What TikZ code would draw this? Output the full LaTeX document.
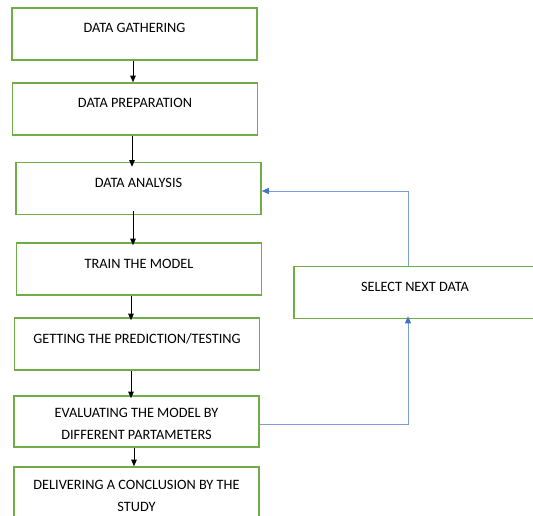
\documentclass[tikz,border=0pt]{standalone}
\usepackage{fontspec}
\setmainfont{Carlito}
\usetikzlibrary{arrows.meta}
\definecolor{boxgreen}{HTML}{70AD47}
\definecolor{loopblue}{HTML}{4472C4}

\begin{document}
\begin{tikzpicture}[x=1pt,y=-1pt,
  stepbox/.style={draw=boxgreen,line width=1.6pt,inner xsep=2pt,inner ysep=0pt,
    font=\fontsize{14.3}{22}\selectfont,minimum width=245pt},
  oneline/.style={stepbox,text height=25pt,text depth=27pt},
  twoline/.style={stepbox,align=center,text height=43pt,text depth=8pt},
  flow/.style={draw=black,line width=0.8pt,-{Triangle[width=5.5pt,length=6.5pt]}},
  back/.style={draw=loopblue!70,line width=0.9pt,-{Triangle[width=6pt,length=7pt,fill=loopblue,color=loopblue]}}]
\useasboundingbox (0,0) rectangle (533,516);
\node[oneline] (b1) at (134.5,34) {DATA GATHERING};
\node[oneline] (b2) at (135,109) {DATA PREPARATION};
\node[oneline] (b3) at (138.5,188.5) {DATA ANALYSIS};
\node[oneline] (b4) at (139,269) {TRAIN THE MODEL};
\node[oneline] (b5) at (137,344) {GETTING THE PREDICTION/TESTING};
\node[twoline] (b6) at (136.5,421.5) {EVALUATING THE MODEL BY\\DIFFERENT PARTAMETERS};
\node[twoline,text height=44pt] (b7) at (136.5,493) {DELIVERING A CONCLUSION BY THE\\STUDY};
\node[oneline,minimum width=242pt] (b8) at (415,292.5) {SELECT NEXT DATA};
\draw[flow] ([xshift=-1.5pt]b1.south) -- ([xshift=-1.5pt]b1.south |- b2.north);
\draw[flow] ([xshift=-3pt]b2.south) -- ([xshift=-3pt,yshift=-5pt]b2.south |- b3.north);
\draw[flow] ([xshift=-5.5pt,yshift=4pt]b3.south) -- ([xshift=-5.5pt,yshift=-3pt]b3.south |- b4.north);
\draw[flow] ([xshift=-8pt]b4.south) -- ([xshift=-8pt,yshift=-3pt]b4.south |- b5.north);
\draw[flow] ([xshift=-6pt]b5.south) -- ([xshift=-6pt,yshift=-3pt]b5.south |- b6.north);
\draw[flow] ([xshift=-2.5pt]b6.south) -- ([xshift=-2.5pt]b6.south |- b7.north);
\coordinate (lowturn) at (408,424);
\coordinate (highturn) at (408,191);
\draw[back] (b6.east |- lowturn) -- (lowturn) -- ([yshift=3pt]lowturn |- b8.south);
\draw[back] (highturn |- b8.north) -- (highturn) -- (highturn -| b3.east);
\end{tikzpicture}
\end{document}
